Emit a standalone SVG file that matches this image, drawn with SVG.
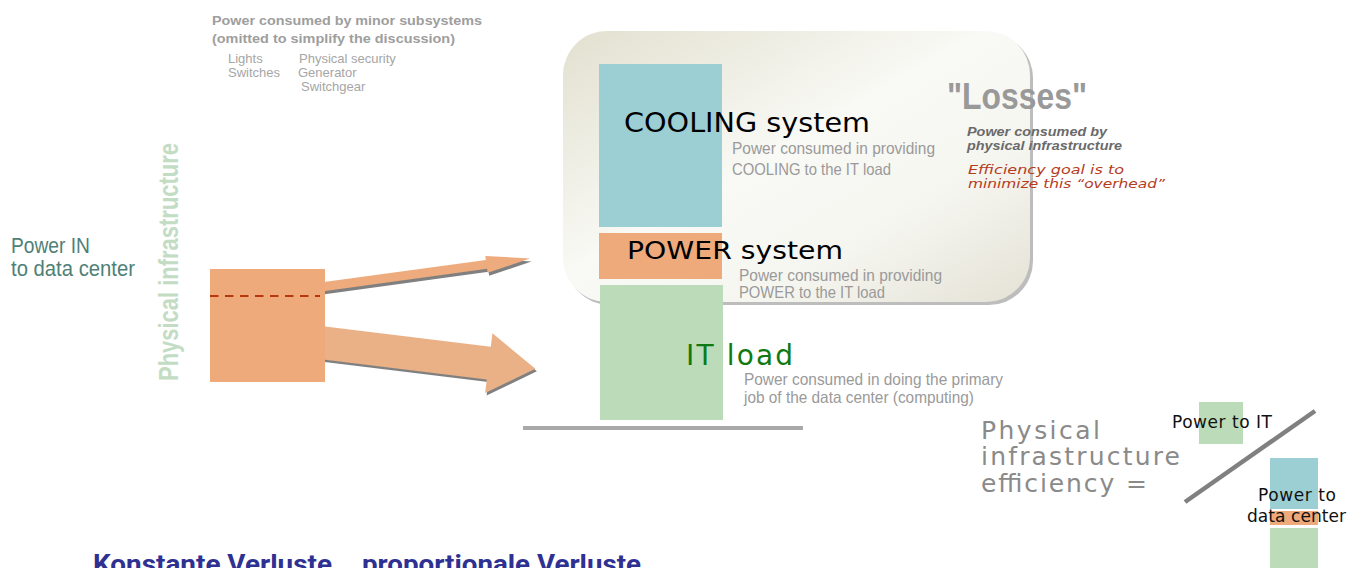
<svg xmlns="http://www.w3.org/2000/svg" width="1358" height="568" viewBox="0 0 1358 568">
  <defs>
    <linearGradient id="panelGrad" x1="0" y1="0" x2="1" y2="1">
      <stop offset="0" stop-color="#e2e0cf"/>
      <stop offset="0.45" stop-color="#f9f9f5"/>
      <stop offset="0.7" stop-color="#f6f6f1"/>
      <stop offset="1" stop-color="#e4e2d5"/>
    </linearGradient>
    <style>
      .minor { font-family: "Liberation Sans", Arial, sans-serif; fill: #a6a6a6; }
      .minorb { font-family: "Liberation Sans", Arial, sans-serif; font-weight: bold; fill: #9e9e9e; font-size: 13px; }
      .desc { font-family: "Liberation Sans Narrow", "Liberation Sans", Arial, sans-serif; fill: #9a9a9a; font-size: 16.5px; }
      .title { font-family: "DejaVu Sans", Verdana, sans-serif; fill: #000; }
      .small { font-family: "DejaVu Sans", Verdana, sans-serif; fill: #111; font-size: 17px; }
      .eff { font-family: "DejaVu Sans", Verdana, sans-serif; fill: #8a8a8a; font-size: 25px; }
      .arrowShadow { fill: #808080; }
      .bottom { font-family: Roboto, "Liberation Sans", Arial, sans-serif; font-weight: bold; font-size: 26px; fill: #2e3192; }
    </style>
  </defs>

  <!-- minor subsystems note -->
  <g id="minor-subsystems">
    <text class="minorb" x="212" y="25" textLength="270" lengthAdjust="spacingAndGlyphs">Power consumed by minor subsystems</text>
    <text class="minorb" x="212" y="43" textLength="243" lengthAdjust="spacingAndGlyphs">(omitted to simplify the discussion)</text>
    <text class="minor" x="228" y="63" font-size="13">Lights</text>
    <text class="minor" x="299" y="63" font-size="13">Physical security</text>
    <text class="minor" x="228" y="77" font-size="13">Switches</text>
    <text class="minor" x="298" y="77" font-size="13">Generator</text>
    <text class="minor" x="301" y="91" font-size="13">Switchgear</text>
  </g>

  <!-- losses panel -->
  <g id="losses-panel">
    <rect x="566" y="34" width="467" height="271" rx="44" fill="#bdbdbd"/>
    <rect x="563" y="31" width="467" height="271" rx="44" fill="url(#panelGrad)"/>
  </g>

  <!-- Power IN label -->
  <g id="power-in">
    <text x="11" y="253" font-family="Liberation Sans Narrow, Liberation Sans, Arial, sans-serif" font-size="22" fill="#4f7f77" textLength="79" lengthAdjust="spacingAndGlyphs">Power IN</text>
    <text x="11" y="276" font-family="Liberation Sans Narrow, Liberation Sans, Arial, sans-serif" font-size="22" fill="#4f7f77" textLength="124" lengthAdjust="spacingAndGlyphs">to data center</text>
  </g>

  <!-- vertical label -->
  <g id="physical-infrastructure-label">
    <text transform="translate(178,381) rotate(-90)" font-family="Liberation Sans, Arial, sans-serif" font-weight="bold" font-size="27" fill="#c3dcc4" textLength="238" lengthAdjust="spacingAndGlyphs">Physical infrastructure</text>
  </g>

  <!-- connectors (arrows) -->
  <g id="connectors">
    <g transform="translate(326.5,289.5) rotate(-7.8)">
      <polygon class="arrowShadow" points="-6,-4.5 163,-4.5 163,-8.5 207,0 163,8.5 163,4.5 -6,4.5"/>
    </g>
    <g transform="translate(325,286.5) rotate(-7.8)">
      <polygon fill="#eeab7d" points="-6,-4.5 163,-4.5 163,-8.5 207,0 163,8.5 163,4.5 -6,4.5"/>
    </g>
    <g transform="translate(326.5,345.5) rotate(7)">
      <polygon class="arrowShadow" points="-6,-16.5 165,-16.5 165,-30 212,0 165,30 165,16.5 -6,16.5"/>
    </g>
    <g transform="translate(325,343) rotate(7)">
      <polygon fill="#ebb186" points="-6,-16.5 165,-16.5 165,-30 212,0 165,30 165,16.5 -6,16.5"/>
    </g>
  </g>

  <!-- source box -->
  <g id="physical-infrastructure-box">
    <rect x="210" y="269" width="115" height="113" fill="#eeaa7b"/>
    <line x1="210" y1="296" x2="320" y2="296" stroke="#b8380e" stroke-width="2.2" stroke-dasharray="8.5 6.5"/>
  </g>

  <!-- cooling -->
  <g id="cooling">
    <rect x="599" y="64" width="123" height="163" fill="#9bcfd3"/>
    <text class="title" x="624" y="132" font-size="27" textLength="246" lengthAdjust="spacingAndGlyphs">COOLING system</text>
    <text class="desc" x="732" y="154" textLength="203" lengthAdjust="spacingAndGlyphs">Power consumed in providing</text>
    <text class="desc" x="732" y="175" textLength="159" lengthAdjust="spacingAndGlyphs">COOLING to the IT load</text>
  </g>

  <!-- power system -->
  <g id="power-system">
    <rect x="599" y="233" width="123" height="46" fill="#eeaa7b"/>
    <text class="title" x="627" y="259" font-size="25" textLength="216" lengthAdjust="spacingAndGlyphs">POWER system</text>
    <text class="desc" x="739" y="281" textLength="203" lengthAdjust="spacingAndGlyphs">Power consumed in providing</text>
    <text class="desc" x="739" y="298" textLength="146" lengthAdjust="spacingAndGlyphs">POWER to the IT load</text>
  </g>

  <!-- IT load -->
  <g id="it-load">
    <rect x="600" y="285" width="123" height="135" fill="#bbdbb9"/>
    <text class="title" x="686" y="365" font-size="28" style="fill:#0f7a12" textLength="107" lengthAdjust="spacing">IT load</text>
    <text class="desc" x="744" y="385" textLength="259" lengthAdjust="spacingAndGlyphs">Power consumed in doing the primary</text>
    <text class="desc" x="744" y="403" textLength="230" lengthAdjust="spacingAndGlyphs">job of the data center (computing)</text>
    <line x1="523" y1="428" x2="803" y2="428" stroke="#a9a9a9" stroke-width="4"/>
  </g>

  <!-- losses text -->
  <g id="losses">
    <text x="947" y="109" font-family="Liberation Sans Narrow, Liberation Sans, Arial, sans-serif" font-weight="bold" font-size="36" fill="#999999" textLength="140" lengthAdjust="spacingAndGlyphs">"Losses"</text>
    <text x="967" y="136" font-family="Liberation Sans, Arial, sans-serif" font-weight="bold" font-style="italic" font-size="13" fill="#6a6a6a" textLength="140" lengthAdjust="spacingAndGlyphs">Power consumed by</text>
    <text x="967" y="150" font-family="Liberation Sans, Arial, sans-serif" font-weight="bold" font-style="italic" font-size="13" fill="#6a6a6a" textLength="155" lengthAdjust="spacingAndGlyphs">physical infrastructure</text>
    <text x="968" y="174" font-family="DejaVu Sans, Verdana, sans-serif" font-style="italic" font-size="13" fill="#b43c1c" textLength="156" lengthAdjust="spacingAndGlyphs">Efficiency goal is to</text>
    <text x="968" y="188" font-family="DejaVu Sans, Verdana, sans-serif" font-style="italic" font-size="13" fill="#b43c1c" textLength="197" lengthAdjust="spacingAndGlyphs">minimize this “overhead”</text>
  </g>

  <!-- efficiency formula -->
  <g id="efficiency">
    <text class="eff" x="981" y="439" textLength="119" lengthAdjust="spacing">Physical</text>
    <text class="eff" x="981" y="465" textLength="199" lengthAdjust="spacing">infrastructure</text>
    <text class="eff" x="981" y="492" textLength="166" lengthAdjust="spacing">efficiency =</text>
  </g>

  <g id="power-to-it">
    <rect x="1199" y="402" width="44" height="42" fill="#bbdbb9"/>
    <text class="small" x="1172" y="428" textLength="100" lengthAdjust="spacing">Power to IT</text>
  </g>

  <g id="fraction-line">
    <line x1="1185" y1="502" x2="1315" y2="411" stroke="#808080" stroke-width="4.5"/>
  </g>

  <g id="power-to-data-center">
    <rect x="1270" y="458" width="48" height="51" fill="#9bcfd3"/>
    <rect x="1270" y="511" width="48" height="14" fill="#eeaa7b"/>
    <rect x="1270" y="528" width="48" height="45" fill="#bbdbb9"/>
    <text class="small" x="1258" y="501" textLength="78" lengthAdjust="spacing">Power to</text>
    <text class="small" x="1247" y="522" textLength="99" lengthAdjust="spacing">data center</text>
  </g>

  <g id="bottom-title">
    <text class="bottom" x="93" y="573" textLength="239" lengthAdjust="spacingAndGlyphs">Konstante Verluste</text>
    <text class="bottom" x="362" y="573" textLength="279" lengthAdjust="spacingAndGlyphs">proportionale Verluste</text>
  </g>
</svg>
